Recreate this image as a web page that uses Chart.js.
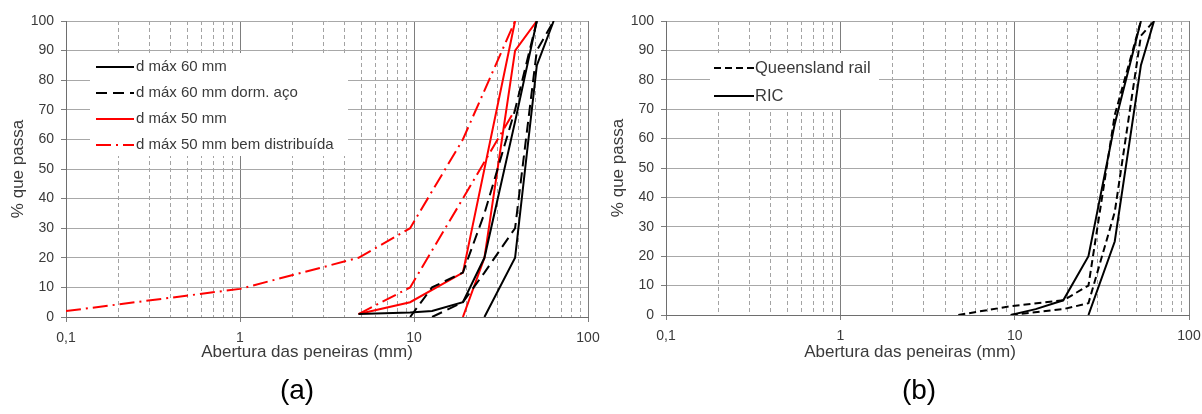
<!DOCTYPE html>
<html lang="pt">
<head>
<meta charset="utf-8">
<title>Curvas granulométricas de lastro</title>
<script src="https://cdn.jsdelivr.net/npm/chart.js@4.4.1/dist/chart.umd.min.js"></script>
<style>
  html, body { margin: 0; padding: 0; background: #fff; }
  #wrap { position: relative; width: 1202px; height: 414px; }
  canvas { position: absolute; top: 0; }
  #chartA { left: 0; }
  #chartB { left: 600px; }
</style>
</head>
<body>
<div id="wrap">
  <canvas id="chartA" width="600" height="414"></canvas>
  <canvas id="chartB" width="602" height="414"></canvas>
</div>
<script>
// Abertura das peneiras (mm) e % que passa: limite fino e limite grosso de cada faixa

// (a) d máx 60 mm
const d60FinoMm = [4.8, 9.5, 12.7, 19.1, 25.4, 38.1, 50.8];
const d60FinoPct = [1, 1.5, 2, 5, 20, 66, 100];
const d60GrossoMm = [25.4, 38.1, 50.8, 63.5];
const d60GrossoPct = [0, 20, 85, 100];
// (a) d máx 60 mm dorm. aço
const d60AcoFinoMm = [9.5, 12.7, 19.1, 25.4, 38.1, 50.8];
const d60AcoFinoPct = [0, 10, 15, 35, 70, 100];
const d60AcoGrossoMm = [12.7, 19.1, 25.4, 38.1, 50.8, 63.5];
const d60AcoGrossoPct = [0, 5, 15, 30, 90, 100];
// (a) d máx 50 mm
const d50FinoMm = [4.8, 9.5, 19.1, 38.1];
const d50FinoPct = [1, 5, 15, 100];
const d50GrossoMm = [19.1, 25.4, 38.1, 50.8];
const d50GrossoPct = [0, 20, 90, 100];
// (a) d máx 50 mm bem distribuída
const d50BdFinoMm = [0.1, 1, 4.8, 9.5, 19.1, 38.1];
const d50BdFinoPct = [2, 9.5, 20, 30, 60, 100];
const d50BdGrossoMm = [4.8, 9.5, 19.1, 38.1];
const d50BdGrossoPct = [1, 10, 40, 70];

// (b) RIC
const ricFinoMm = [9.5, 13.2, 19, 26.5, 37.5, 53];
const ricFinoPct = [0, 2, 5, 20, 65, 100];
const ricGrossoMm = [26.5, 37.5, 53, 63];
const ricGrossoPct = [0, 25, 85, 100];
// (b) Queensland rail
const qrFinoMm = [4.75, 9.5, 19, 26.5, 37.5, 53];
const qrFinoPct = [0, 3, 5, 10, 68, 100];
const qrGrossoMm = [9.5, 19, 26.5, 37.5, 53, 63];
const qrGrossoPct = [0, 2, 4, 35, 95, 100];

// eixos
const xMin = 0.1, xMax = 100;
const yTicks = [0, 10, 20, 30, 40, 50, 60, 70, 80, 90, 100];

const FONT = '"Liberation Sans", Arial, sans-serif';
const TXT = '#3a3a3a';

// linhas de grade do eixo log: 1..9 x 10^k
const gridValues = [];
for (let k = -1; k < 2; k++) {
  for (let m = 1; m < 10; m++) gridValues.push(+(m * Math.pow(10, k)).toPrecision(3));
}
gridValues.push(xMax);

function isDecade(v) {
  const l = Math.log10(v);
  return Math.abs(l - Math.round(l)) < 1e-9;
}

function curva(label, mm, pct, color, dash) {
  return {
    label: label,
    data: mm.map((x, i) => ({ x: x, y: pct[i] })),
    borderColor: color,
    backgroundColor: color,
    borderWidth: 2,
    borderDash: dash,
    pointRadius: 0,
    tension: 0,
    fill: false
  };
}

// legenda desenhada sobre a grade, antes das curvas
const legendaInterna = {
  id: 'legendaInterna',
  beforeDatasetsDraw(chart, args, opts) {
    const ctx = chart.ctx;
    const itens = [];
    chart.data.datasets.forEach(ds => {
      if (!itens.some(it => it.label === ds.label)) itens.push(ds);
    });
    ctx.save();
    ctx.fillStyle = '#fff';
    ctx.fillRect(opts.left, opts.top, opts.width, opts.height);
    ctx.font = opts.font;
    ctx.textBaseline = 'middle';
    ctx.textAlign = 'left';
    itens.forEach((ds, i) => {
      const y = opts.firstRow + i * opts.rowStep;
      ctx.strokeStyle = ds.borderColor;
      ctx.lineWidth = ds.borderWidth;
      ctx.setLineDash(ds.borderDash || []);
      ctx.beginPath();
      ctx.moveTo(opts.sampleX0, y);
      ctx.lineTo(opts.sampleX1, y);
      ctx.stroke();
      ctx.setLineDash([]);
      ctx.fillStyle = TXT;
      ctx.fillText(ds.label, opts.textX, y);
    });
    ctx.restore();
  }
};

// título do eixo x e rótulo do painel
const legendas = {
  id: 'legendas',
  afterDraw(chart, args, opts) {
    const ctx = chart.ctx;
    ctx.save();
    ctx.fillStyle = TXT;
    ctx.textAlign = 'center';
    ctx.textBaseline = 'middle';
    ctx.font = '17px ' + FONT;
    ctx.fillText(opts.xTitle, opts.xTitleX, opts.xTitleY);
    ctx.fillStyle = '#000';
    ctx.font = '28px ' + FONT;
    ctx.fillText(opts.panel, opts.panelX, opts.panelY);
    ctx.restore();
  }
};

function criarGrafico(id, datasets, area, legenda, textos) {
  return new Chart(document.getElementById(id), {
    type: 'line',
    data: { datasets: datasets },
    plugins: [legendaInterna, legendas],
    options: {
      responsive: false,
      animation: false,
      events: [],
      layout: { padding: { top: area.top, right: area.right, left: 0, bottom: 0 } },
      plugins: {
        legend: { display: false },
        tooltip: { enabled: false },
        legendaInterna: legenda,
        legendas: textos
      },
      scales: {
        x: {
          type: 'logarithmic',
          min: xMin,
          max: xMax,
          afterBuildTicks: scale => {
            scale.ticks = gridValues.map(v => ({ value: v }));
          },
          afterFit: scale => {
            scale.height = area.xAxisHeight;
            scale.paddingLeft = 0;
            scale.paddingRight = 0;
          },
          ticks: {
            autoSkip: false,
            maxRotation: 0,
            padding: 8,
            color: TXT,
            font: { family: FONT, size: 14 },
            callback: v => isDecade(v) ? String(v).replace('.', ',') : ''
          },
          grid: {
            color: c => (c.tick && isDecade(c.tick.value)) ? '#7d7d7d' : '#a3a3a3',
            lineWidth: 1,
            tickLength: 5,
            tickColor: c => (c.tick && isDecade(c.tick.value)) ? '#7d7d7d' : 'rgba(0,0,0,0)',
            tickBorderDash: []
          },
          border: {
            color: '#6e6e6e',
            width: 1,
            dash: c => (c.tick && !isDecade(c.tick.value)) ? [4, 3] : []
          },
          title: { display: false }
        },
        y: {
          type: 'linear',
          min: 0,
          max: 100,
          afterBuildTicks: scale => {
            scale.ticks = yTicks.map(v => ({ value: v }));
          },
          afterFit: scale => {
            scale.width = area.left;
            scale.paddingTop = 0;
            scale.paddingBottom = 0;
          },
          ticks: {
            padding: 7,
            color: TXT,
            font: { family: FONT, size: 14 }
          },
          grid: {
            color: '#a8a8a8',
            lineWidth: 1,
            tickLength: 5,
            tickColor: '#7d7d7d'
          },
          border: { color: '#6e6e6e', width: 1 },
          title: {
            display: true,
            text: '% que passa',
            color: TXT,
            font: { family: FONT, size: 17 },
            padding: { top: 8, bottom: 0 }
          }
        }
      }
    }
  });
}

const PRETO = '#000000';
const VERMELHO = '#ff0000';
const TRACO = [11, 6];
const TRACO_CURTO = [7, 4];
const TRACO_PONTO = [15, 5, 2, 5];

criarGrafico('chartA', [
  curva('d máx 60 mm', d60FinoMm, d60FinoPct, PRETO, []),
  curva('d máx 60 mm', d60GrossoMm, d60GrossoPct, PRETO, []),
  curva('d máx 60 mm dorm. aço', d60AcoFinoMm, d60AcoFinoPct, PRETO, TRACO),
  curva('d máx 60 mm dorm. aço', d60AcoGrossoMm, d60AcoGrossoPct, PRETO, TRACO),
  curva('d máx 50 mm', d50FinoMm, d50FinoPct, VERMELHO, []),
  curva('d máx 50 mm', d50GrossoMm, d50GrossoPct, VERMELHO, []),
  curva('d máx 50 mm bem distribuída', d50BdFinoMm, d50BdFinoPct, VERMELHO, TRACO_PONTO),
  curva('d máx 50 mm bem distribuída', d50BdGrossoMm, d50BdGrossoPct, VERMELHO, TRACO_PONTO)
], { left: 66, right: 12, top: 21, xAxisHeight: 97 }, {
  left: 90, top: 53, width: 258, height: 103,
  firstRow: 67, rowStep: 26, sampleX0: 96, sampleX1: 134, textX: 136,
  font: '15px ' + FONT
}, {
  xTitle: 'Abertura das peneiras (mm)', xTitleX: 307, xTitleY: 352,
  panel: '(a)', panelX: 297, panelY: 391
});

criarGrafico('chartB', [
  curva('Queensland rail', qrFinoMm, qrFinoPct, PRETO, TRACO_CURTO),
  curva('Queensland rail', qrGrossoMm, qrGrossoPct, PRETO, TRACO_CURTO),
  curva('RIC', ricFinoMm, ricFinoPct, PRETO, []),
  curva('RIC', ricGrossoMm, ricGrossoPct, PRETO, [])
], { left: 66, right: 13, top: 21, xAxisHeight: 99 }, {
  left: 110, top: 53, width: 169, height: 56,
  firstRow: 68, rowStep: 28, sampleX0: 114, sampleX1: 154, textX: 155,
  font: '16.5px ' + FONT
}, {
  xTitle: 'Abertura das peneiras (mm)', xTitleX: 310, xTitleY: 352,
  panel: '(b)', panelX: 319, panelY: 391
});
</script>
</body>
</html>
